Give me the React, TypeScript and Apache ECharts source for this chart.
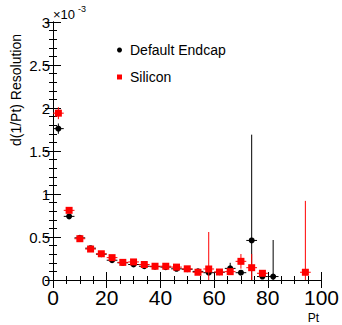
import React, { useEffect, useRef } from "react";
import * as echarts from "echarts";

// Pt bin centres (bin width 4)
const ptDefault = [2, 6, 10, 14, 18, 22, 26, 30, 34, 38, 42, 46, 50, 54, 58, 62, 66, 70, 74, 78, 82];
// d(1/Pt) resolution, in units of 10^-3
const resDefault = [1.76, 0.74, 0.49, 0.37, 0.3, 0.23, 0.2, 0.18, 0.16, 0.155, 0.15, 0.13, 0.125, 0.1, 0.085, 0.09, 0.135, 0.085, 0.46, 0.04, 0.04];
const errDefault = [0.06, 0.025, 0.015, 0.012, 0.01, 0.01, 0.01, 0.01, 0.01, 0.01, 0.01, 0.01, 0.01, 0.015, 0.02, 0.02, 0.065, 0.02, 1.23, 0.02, 0.425];

const ptSilicon = [2, 6, 10, 14, 18, 22, 26, 30, 34, 38, 42, 46, 50, 54, 58, 62, 66, 70, 74, 78, 94];
const resSilicon = [1.94, 0.81, 0.48, 0.36, 0.305, 0.26, 0.205, 0.21, 0.18, 0.16, 0.16, 0.15, 0.13, 0.09, 0.128, 0.093, 0.097, 0.217, 0.143, 0.078, 0.09];
const errSilicon = [0.07, 0.03, 0.015, 0.012, 0.012, 0.02, 0.01, 0.015, 0.01, 0.01, 0.01, 0.01, 0.01, 0.015, 0.43, 0.015, 0.02, 0.085, 0.16, 0.015, 0.83];

const binHalfWidth = 2;
const seriesNames = ["Default Endcap", "Silicon"];

const FONT = "'Liberation Sans', Arial, Helvetica, sans-serif";

function errRenderer(color: string) {
  return (params: any, api: any) => {
    const x = api.value(0);
    const y = api.value(1);
    const e = api.value(2);
    const hw = api.value(3);
    const cs = params.coordSys;
    const bottom = cs.y + cs.height;
    const top = cs.y;
    const pL = api.coord([x - hw, y]);
    const pR = api.coord([x + hw, y]);
    const pT = api.coord([x, y + e]);
    const pB = api.coord([x, y - e]);
    return {
      type: "group",
      children: [
        { type: "line", shape: { x1: pL[0], y1: pL[1], x2: pR[0], y2: pR[1] }, style: { stroke: color, lineWidth: 1 } },
        {
          type: "line",
          shape: { x1: pT[0], y1: Math.max(pT[1], top), x2: pB[0], y2: Math.min(pB[1], bottom) },
          style: { stroke: color, lineWidth: 1 },
        },
      ],
    };
  };
}

export default function App() {
  const ref = useRef<HTMLDivElement>(null);
  useEffect(() => {
    if (!ref.current) return;
    const chart = echarts.init(ref.current, undefined, { renderer: "svg" });
    const axisCommon = {
      type: "value" as const,
      axisLine: { show: true, lineStyle: { color: "#000", width: 1 } },
      splitLine: { show: false },
    };
    const dDefault = ptDefault.map((x, i) => [x, resDefault[i], errDefault[i], binHalfWidth]);
    const dSilicon = ptSilicon.map((x, i) => [x, resSilicon[i], errSilicon[i], binHalfWidth]);
    chart.setOption({
      animation: false,
      backgroundColor: "#fff",
      textStyle: { fontFamily: FONT },
      grid: { left: 53, top: 22, width: 269, height: 258, containLabel: false },
      xAxis: [
        {
          ...axisCommon,
          min: 0,
          max: 100,
          interval: 20,
          position: "bottom",
          axisTick: { show: true, inside: true, length: 8, lineStyle: { color: "#000" } },
          minorTick: { show: true, splitNumber: 4, length: 4, lineStyle: { color: "#000" } },
          axisLabel: { fontSize: 21, color: "#000", margin: 7, fontFamily: FONT },
        },
        {
          ...axisCommon,
          min: 0,
          max: 100,
          interval: 20,
          position: "top",
          axisTick: { show: true, inside: true, length: 8, lineStyle: { color: "#000" } },
          minorTick: { show: true, splitNumber: 4, length: 4, lineStyle: { color: "#000" } },
          axisLabel: { show: false },
        },
      ],
      yAxis: [
        {
          ...axisCommon,
          min: 0,
          max: 3,
          interval: 0.5,
          position: "left",
          axisTick: { show: true, inside: true, length: 8, lineStyle: { color: "#000" } },
          minorTick: { show: true, splitNumber: 5, length: 4, lineStyle: { color: "#000" } },
          axisLabel: { fontSize: 15, color: "#000", margin: 3, fontFamily: FONT },
        },
        {
          ...axisCommon,
          min: 0,
          max: 3,
          interval: 0.5,
          position: "right",
          axisTick: { show: true, inside: true, length: 8, lineStyle: { color: "#000" } },
          minorTick: { show: true, splitNumber: 5, length: 4, lineStyle: { color: "#000" } },
          axisLabel: { show: false },
        },
      ],
      legend: {
        orient: "vertical",
        left: 112,
        top: 38,
        itemGap: 13,
        itemWidth: 5,
        itemHeight: 5,
        textStyle: { fontSize: 14, color: "#000", fontFamily: FONT, padding: [0, 0, 0, 3] },
        data: [
          { name: seriesNames[0], icon: "circle" },
          { name: seriesNames[1], icon: "rect" },
        ],
      },
      graphic: [
        {
          type: "text",
          x: 16,
          y: 34,
          rotation: Math.PI / 2,
          style: {
            text: "d(1/Pt) Resolution",
            fontSize: 14,
            fontFamily: FONT,
            fill: "#000",
            align: "right",
            verticalAlign: "middle",
          },
        },
        {
          type: "text",
          x: 53,
          y: 8,
          style: { text: "×10", fontSize: 13, fontFamily: FONT, fill: "#000", align: "left", verticalAlign: "top" },
        },
        {
          type: "text",
          x: 78,
          y: 4,
          style: { text: "-3", fontSize: 9, fontFamily: FONT, fill: "#000", align: "left", verticalAlign: "top" },
        },
        {
          type: "text",
          x: 319,
          y: 318,
          style: { text: "Pt", fontSize: 12, fontFamily: FONT, fill: "#000", align: "right", verticalAlign: "middle" },
        },
      ],
      series: [
        {
          name: "errDefault",
          type: "custom",
          renderItem: errRenderer("#000"),
          dimensions: ["x", "y", "err", "hw"],
          encode: { x: 0, y: 1 },
          data: dDefault,
          z: 2,
        },
        {
          name: seriesNames[0],
          type: "scatter",
          symbol: "circle",
          symbolSize: 6,
          itemStyle: { color: "#000", opacity: 1 },
          data: dDefault.map((d) => [d[0], d[1]]),
          z: 3,
        },
        {
          name: "errSilicon",
          type: "custom",
          renderItem: errRenderer("#ff0000"),
          dimensions: ["x", "y", "err", "hw"],
          encode: { x: 0, y: 1 },
          data: dSilicon,
          z: 4,
        },
        {
          name: seriesNames[1],
          type: "scatter",
          symbol: "rect",
          symbolSize: 7,
          itemStyle: { color: "#ff0000", opacity: 1 },
          data: dSilicon.map((d) => [d[0], d[1]]),
          z: 5,
        },
      ],
    });
    return () => chart.dispose();
  }, []);
  return (
    <div
      ref={ref}
      style={{ position: "absolute", left: 0, top: 0, width: 342, height: 325, background: "#fff" }}
    />
  );
}
